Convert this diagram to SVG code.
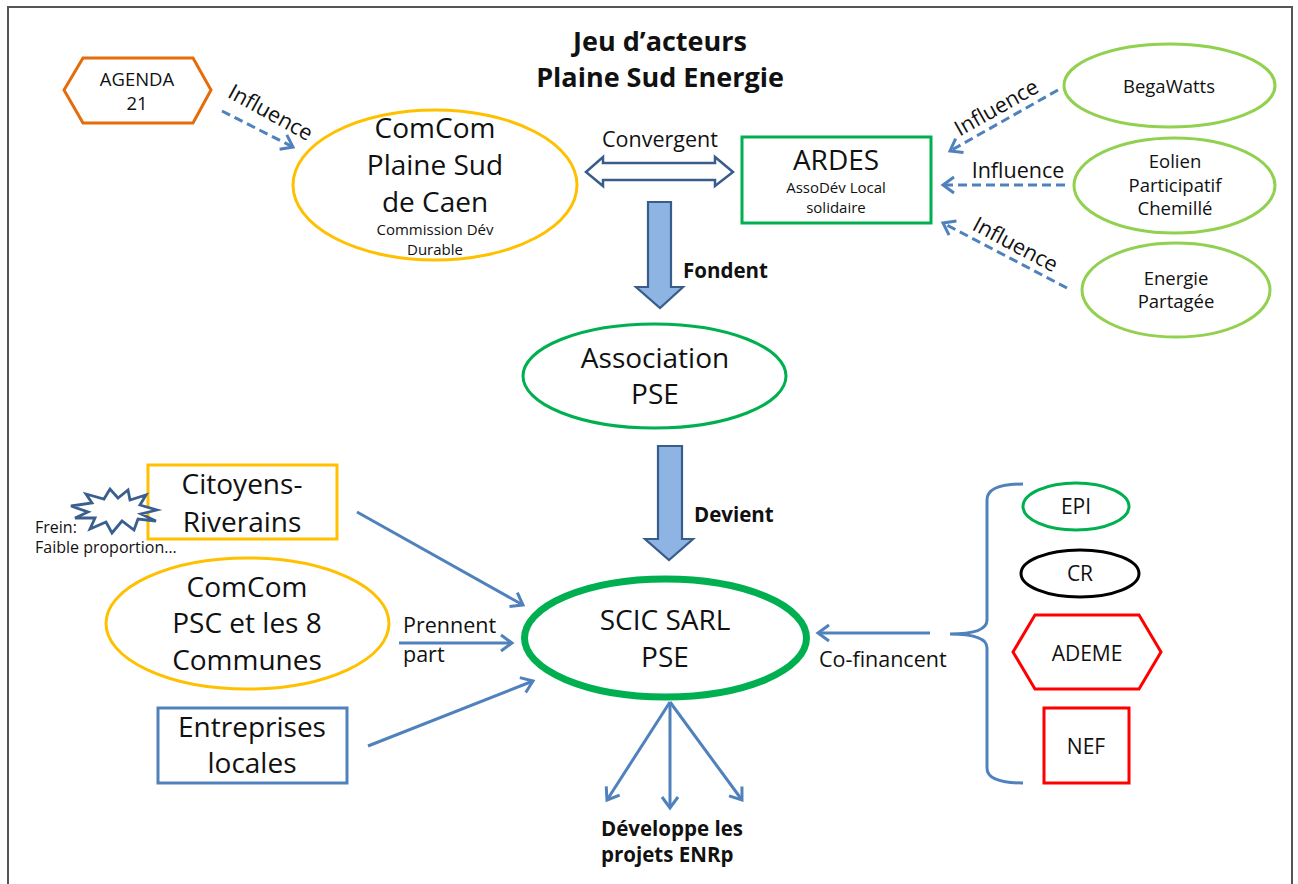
<svg xmlns="http://www.w3.org/2000/svg" width="1298" height="884" viewBox="0 0 1298 884">
<style>
text{font-family:"Open Sans","Liberation Sans",sans-serif;fill:#111;}
.big{font-size:28px;text-anchor:middle;}
.med{font-size:18.5px;text-anchor:middle;}
.fin{font-size:21px;text-anchor:middle;}
.lab{font-size:21.5px;}
.sm{font-size:16px;}
.smc{font-size:15px;text-anchor:middle;}
.bd{font-size:20.5px;font-weight:bold;}
.title{font-size:27px;font-weight:bold;text-anchor:middle;}
.line{fill:none;stroke:#4F81BD;stroke-width:3;marker-end:url(#ah);}
.dash{stroke-dasharray:9 5;}
.block{fill:#8EB4E3;stroke:#385D8A;stroke-width:2.2;stroke-linejoin:miter;}
.node{fill:#fff;stroke-width:3;}
</style>
<defs>
<marker id="ah" markerUnits="userSpaceOnUse" markerWidth="20" markerHeight="20" refX="14" refY="10" orient="auto" overflow="visible">
<path d="M3,2 L14,10 L3,18" fill="none" stroke="#4F81BD" stroke-width="3" stroke-dasharray="none" stroke-linejoin="miter"/>
</marker>
</defs>
<rect x="0" y="0" width="1298" height="884" fill="#fff"/>
<rect x="8" y="7" width="1284" height="900" fill="none" stroke="#555" stroke-width="2"/>

<g id="title">
<text class="title" x="660" y="51">Jeu d’acteurs</text>
<text class="title" x="660" y="87">Plaine Sud Energie</text>
</g>

<g id="connectors">
<line class="line dash" x1="222" y1="111" x2="293" y2="147"/>
<text class="lab" text-anchor="middle" transform="translate(267,119) rotate(29)">Influence</text>
<line class="line dash" x1="1058" y1="90" x2="950" y2="151"/>
<text class="lab" text-anchor="middle" transform="translate(1000,114) rotate(-29.5)">Influence</text>
<line class="line dash" x1="1065" y1="185" x2="943" y2="185"/>
<text class="lab" text-anchor="middle" x="1018" y="178">Influence</text>
<line class="line dash" x1="1067" y1="288" x2="943" y2="223"/>
<text class="lab" text-anchor="middle" transform="translate(1012,251) rotate(28)">Influence</text>
<path d="M586,172 L603,157 L603,163 L715,163 L715,157 L733,172 L715,186 L715,180 L603,180 L603,186 Z" fill="#fff" stroke="#385D8A" stroke-width="2.5"/>
<text class="lab" text-anchor="middle" x="660" y="147">Convergent</text>
<path class="block" d="M648,202 L671,202 L671,287 L683,287 L660,308 L636,287 L648,287 Z"/>
<text class="bd" x="683" y="278">Fondent</text>
<path class="block" d="M658,446 L682,446 L682,539 L693,539 L669,560 L645,539 L658,539 Z"/>
<text class="bd" x="694" y="522">Devient</text>
<line class="line" x1="357" y1="512" x2="523" y2="605"/>
<line class="line" x1="399" y1="643" x2="512" y2="643"/>
<text class="lab" x="403" y="633">Prennent</text>
<text class="lab" x="403" y="662">part</text>
<line class="line" x1="368" y1="746" x2="533" y2="681"/>
<line class="line" x1="670" y1="702" x2="607" y2="800"/>
<line class="line" x1="670" y1="702" x2="670" y2="808"/>
<line class="line" x1="670" y1="702" x2="742" y2="800"/>
<text class="bd" x="601" y="836">Développe les</text>
<text class="bd" x="601" y="862">projets ENRp</text>
<line class="line" x1="930" y1="633" x2="818" y2="633"/>
<text class="lab" x="819" y="667">Co-financent</text>
<path d="M1023,484 Q987,484 987,500 L987,620 Q987,634 950,634 Q987,634 987,648 L987,768 Q987,783 1023,783" fill="none" stroke="#4F81BD" stroke-width="3"/>
</g>

<g id="agenda21">
<polygon class="node" points="64,90 83,58 193,58 211,90 193,123 83,123" stroke="#E46C0A"/>
<text class="med" x="137" y="86">AGENDA</text>
<text class="med" x="137" y="110">21</text>
</g>

<g id="comcom-psc-caen">
<ellipse class="node" cx="435" cy="185" rx="142" ry="75" stroke="#FFC000"/>
<text class="big" x="435" y="138">ComCom</text>
<text class="big" x="435" y="175">Plaine Sud</text>
<text class="big" x="435" y="212">de Caen</text>
<text class="smc" x="435" y="235">Commission Dév</text>
<text class="smc" x="435" y="255">Durable</text>
</g>

<g id="ardes">
<rect class="node" x="742" y="137" width="189" height="86" stroke="#00B050"/>
<text class="big" x="836" y="170">ARDES</text>
<text class="smc" x="836" y="193">AssoDév Local</text>
<text class="smc" x="836" y="213">solidaire</text>
</g>

<g id="begawatts">
<ellipse class="node" cx="1169.5" cy="85.5" rx="105.5" ry="41.5" stroke="#92D050"/>
<text class="med" x="1169" y="93">BegaWatts</text>
</g>

<g id="eolien">
<ellipse class="node" cx="1174.5" cy="185.5" rx="100.5" ry="47.5" stroke="#92D050"/>
<text class="med" x="1175" y="168">Eolien</text>
<text class="med" x="1175" y="192">Participatif</text>
<text class="med" x="1175" y="215">Chemillé</text>
</g>

<g id="energie-partagee">
<ellipse class="node" cx="1176" cy="290" rx="94" ry="47" stroke="#92D050"/>
<text class="med" x="1176" y="285">Energie</text>
<text class="med" x="1176" y="308">Partagée</text>
</g>

<g id="association-pse">
<ellipse class="node" cx="654.5" cy="376" rx="131.5" ry="52" stroke="#00B050"/>
<text class="big" x="655" y="368">Association</text>
<text class="big" x="655" y="404">PSE</text>
</g>

<g id="citoyens">
<rect class="node" x="148" y="465" width="189" height="74" stroke="#FFC000"/>
<text class="big" x="242" y="494">Citoyens-</text>
<text class="big" x="242" y="532">Riverains</text>
<polygon points="71,506 92,503 86,494 104,499 110,489 118,498 128,490 130,500 146,495 140,505 157,510 141,514 156,521 138,519 134,530 122,521 112,533 106,522 90,529 95,518 75,518 88,512" fill="#fff" stroke="#3A5F8F" stroke-width="2.8" stroke-linejoin="miter"/>
<text class="sm" x="35" y="533">Frein:</text>
<text class="sm" x="35" y="553">Faible proportion…</text>
</g>

<g id="comcom-psc">
<ellipse class="node" cx="247.5" cy="623.5" rx="141.5" ry="65.5" stroke="#FFC000"/>
<text class="big" x="247" y="597">ComCom</text>
<text class="big" x="247" y="633">PSC et les 8</text>
<text class="big" x="247" y="670">Communes</text>
</g>

<g id="entreprises">
<rect class="node" x="158" y="708" width="189" height="75" stroke="#4F81BD"/>
<text class="big" x="252" y="737">Entreprises</text>
<text class="big" x="252" y="773">locales</text>
</g>

<g id="scic">
<ellipse cx="665.5" cy="638" rx="141" ry="59" fill="#fff" stroke="#00B050" stroke-width="7"/>
<text class="big" x="665" y="630">SCIC SARL</text>
<text class="big" x="665" y="667">PSE</text>
</g>

<g id="epi">
<ellipse class="node" cx="1076" cy="506.5" rx="53" ry="23.5" stroke="#00B050"/>
<text class="fin" x="1076" y="514">EPI</text>
</g>

<g id="cr">
<ellipse class="node" cx="1080" cy="573.5" rx="59" ry="23.5" stroke="#000"/>
<text class="fin" x="1080" y="581">CR</text>
</g>

<g id="ademe">
<polygon class="node" points="1013,652 1035,615 1139,615 1161,652 1139,689 1035,689" stroke="#FF0000"/>
<text class="fin" x="1087" y="661">ADEME</text>
</g>

<g id="nef">
<rect class="node" x="1044" y="708" width="85" height="75" stroke="#FF0000"/>
<text class="fin" x="1086" y="754">NEF</text>
</g>
</svg>
